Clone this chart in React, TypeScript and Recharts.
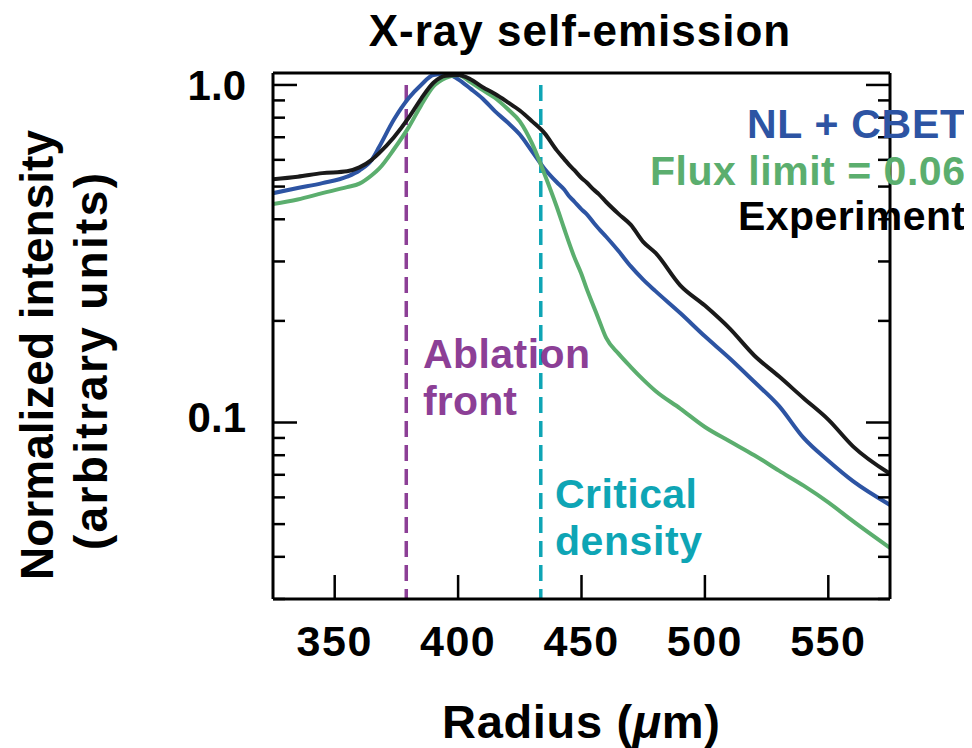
import { Line, LineChart, ReferenceLine, XAxis, YAxis } from "recharts";

// radius in microns
const radius = [
	325, 335, 345, 355, 360, 365, 368, 374, 380, 385, 390, 395, 400, 405, 410, 415, 420, 425, 430, 435,
	440, 443, 445, 447, 450, 452, 455, 457, 460, 465, 470, 475, 480, 490, 500, 510, 520, 530, 540, 550,
	560, 575,
];

const nlCbet = [
	0.478, 0.495, 0.512, 0.535, 0.558, 0.6, 0.655, 0.79, 0.915, 1.0, 1.07, 1.08, 1.04, 0.975, 0.91, 0.835,
	0.775, 0.713, 0.635, 0.565, 0.515, 0.49, 0.468, 0.452, 0.428, 0.415, 0.39, 0.375, 0.355, 0.322, 0.29,
	0.265, 0.245, 0.211, 0.18, 0.155, 0.132, 0.112, 0.09, 0.077, 0.067, 0.057,
];

const fluxLimit = [
	0.444, 0.458, 0.478, 0.498, 0.51, 0.54, 0.565, 0.645, 0.75, 0.87, 0.99, 1.05, 1.07, 1.02, 0.965, 0.915,
	0.85, 0.78, 0.67, 0.545, 0.435, 0.375, 0.34, 0.31, 0.275, 0.25, 0.22, 0.202, 0.178, 0.16, 0.146, 0.134,
	0.124, 0.11, 0.097, 0.088, 0.08, 0.072, 0.065, 0.058, 0.051, 0.0425,
];

const experiment = [
	0.526, 0.535, 0.548, 0.555, 0.57, 0.6, 0.628, 0.7, 0.8, 0.91, 1.015, 1.065, 1.07, 1.04, 0.985, 0.94,
	0.89, 0.84, 0.78, 0.72, 0.64, 0.603, 0.58, 0.56, 0.53, 0.515, 0.489, 0.475, 0.45, 0.415, 0.385, 0.343,
	0.318, 0.255, 0.222, 0.19, 0.158, 0.137, 0.118, 0.102, 0.085, 0.0705,
];

const xTicks = [350, 400, 450, 500, 550];
const yTicks = [0.03, 0.04, 0.05, 0.06, 0.07, 0.08, 0.09, 0.1, 0.2, 0.3, 0.4, 0.5, 0.6, 0.7, 0.8, 0.9, 1.0];
const yTickLabels: Record<string, string> = { "0.1": "0.1", "1": "1.0" };

const ablationFront = 379;
const criticalDensity = 433.5;

const BLUE = "#2d54a3";
const GREEN = "#5bae6e";
const PURPLE = "#8c3f96";
const CYAN = "#0ea5b5";
const FONT = "'Liberation Sans', Arial, Helvetica, sans-serif";

const data = radius.map((r, i) => ({
	r,
	nl: nlCbet[i],
	flux: fluxLimit[i],
	exp: experiment[i],
}));

const isMajor = (v: number) => yTickLabels[String(v)] !== undefined;

const LeftTick = ({ x, y, payload }: any) => {
	const v = payload.value;
	const big = isMajor(v);
	return (
		<g>
			<line x1={x} x2={x + (big ? 24 : 12)} y1={y} y2={y} stroke="#000" strokeWidth={2.5} />
			{big && (
				<text
					x={x - 27}
					y={y + (v === 1 ? 15 : 9)}
					textAnchor="end"
					fontFamily={FONT}
					fontWeight="bold"
					fontSize={42}
					fill="#000"
				>
					{yTickLabels[String(v)]}
				</text>
			)}
		</g>
	);
};

const RightTick = ({ x, y, payload }: any) => {
	const big = isMajor(payload.value);
	return <line x1={x} x2={x - (big ? 24 : 12)} y1={y} y2={y} stroke="#000" strokeWidth={2.5} />;
};

const BottomTick = ({ x, y, payload }: any) => (
	<g>
		<line x1={x} x2={x} y1={y} y2={y - 24} stroke="#000" strokeWidth={2.5} />
		<text
			x={x}
			y={y + 57}
			textAnchor="middle"
			fontFamily={FONT}
			fontWeight="bold"
			fontSize={43}
			letterSpacing={1.5}
			fill="#000"
		>
			{payload.value}
		</text>
	</g>
);

const TopTick = ({ x, y }: any) => <line x1={x} x2={x} y1={y} y2={y + 24} stroke="#000" strokeWidth={2.5} />;

const axisLine = { stroke: "#000", strokeWidth: 3 };

export default function App() {
	return (
		<div style={{ position: "relative", width: 964, height: 740 }}>
			<LineChart width={964} height={740} data={data} margin={{ top: 55, right: 72, left: 205, bottom: 89 }}>
				<XAxis
					dataKey="r"
					type="number"
					domain={[325, 575]}
					ticks={xTicks}
					interval={0}
					allowDataOverflow
					height={60}
					tickSize={0}
					tickMargin={0}
					tickLine={false}
					axisLine={axisLine}
					tick={<BottomTick />}
				/>
				<XAxis
					xAxisId="top"
					orientation="top"
					type="number"
					domain={[325, 575]}
					ticks={xTicks}
					interval={0}
					allowDataOverflow
					height={10}
					tickSize={0}
					tickMargin={0}
					tickLine={false}
					axisLine={axisLine}
					tick={<TopTick />}
				/>
				<YAxis
					type="number"
					scale="log"
					domain={[0.03, 1.085]}
					ticks={yTicks}
					interval={0}
					allowDataOverflow
					width={60}
					tickSize={0}
					tickMargin={0}
					tickLine={false}
					axisLine={axisLine}
					tick={<LeftTick />}
				/>
				<YAxis
					yAxisId="right"
					orientation="right"
					type="number"
					scale="log"
					domain={[0.03, 1.085]}
					ticks={yTicks}
					interval={0}
					allowDataOverflow
					width={10}
					tickSize={0}
					tickMargin={0}
					tickLine={false}
					axisLine={axisLine}
					tick={<RightTick />}
				/>
				<ReferenceLine
					segment={[
						{ x: ablationFront, y: 1 },
						{ x: ablationFront, y: 0.03 },
					]}
					stroke={PURPLE}
					strokeWidth={3.5}
					strokeDasharray="16 8"
				/>
				<ReferenceLine
					segment={[
						{ x: criticalDensity, y: 1 },
						{ x: criticalDensity, y: 0.03 },
					]}
					stroke={CYAN}
					strokeWidth={3.5}
					strokeDasharray="16 8"
				/>
				<Line type="monotone" dataKey="nl" stroke={BLUE} strokeWidth={4} dot={false} isAnimationActive={false} />
				<Line type="monotone" dataKey="flux" stroke={GREEN} strokeWidth={4} dot={false} isAnimationActive={false} />
				<Line type="monotone" dataKey="exp" stroke="#1a1a1a" strokeWidth={4} dot={false} isAnimationActive={false} />
			</LineChart>
			{/* text overlay, in page coordinates */}
			<svg
				width={972}
				height={748}
				style={{ position: "absolute", left: -8, top: -8, pointerEvents: "none" }}
				fontFamily={FONT}
				fontWeight="bold"
			>
				<text x={580} y={46} fontSize={44} textAnchor="middle" letterSpacing={1} fill="#000">
					X-ray self-emission
				</text>
				<text x={442} y={738} fontSize={47} textLength={278} lengthAdjust="spacing" fill="#000">
					Radius (<tspan fontStyle="italic">μ</tspan>m)
				</text>
				<text transform="translate(53,580) rotate(-90)" fontSize={46} textLength={450} lengthAdjust="spacing" fill="#000">
					Normalized intensity
				</text>
				<text transform="translate(107,550) rotate(-90)" fontSize={46} textLength={377} lengthAdjust="spacing" fill="#000">
					(arbitrary units)
				</text>
				<text x={965} y={138} fontSize={41} textAnchor="end" textLength={218} lengthAdjust="spacing" fill={BLUE}>
					NL + CBET
				</text>
				<text x={965} y={185} fontSize={41} textAnchor="end" textLength={315} lengthAdjust="spacing" fill={GREEN}>
					Flux limit = 0.06
				</text>
				<text x={965} y={230} fontSize={41} textAnchor="end" textLength={227} lengthAdjust="spacing" fill="#000">
					Experiment
				</text>
				<text x={423} y={368} fontSize={41} textLength={167} lengthAdjust="spacing" fill={PURPLE}>
					Ablation
				</text>
				<text x={423} y={415} fontSize={41} textLength={94} lengthAdjust="spacing" fill={PURPLE}>
					front
				</text>
				<text x={555} y={508} fontSize={41} textLength={142} lengthAdjust="spacing" fill={CYAN}>
					Critical
				</text>
				<text x={555} y={555} fontSize={41} textLength={147} lengthAdjust="spacing" fill={CYAN}>
					density
				</text>
			</svg>
		</div>
	);
}
